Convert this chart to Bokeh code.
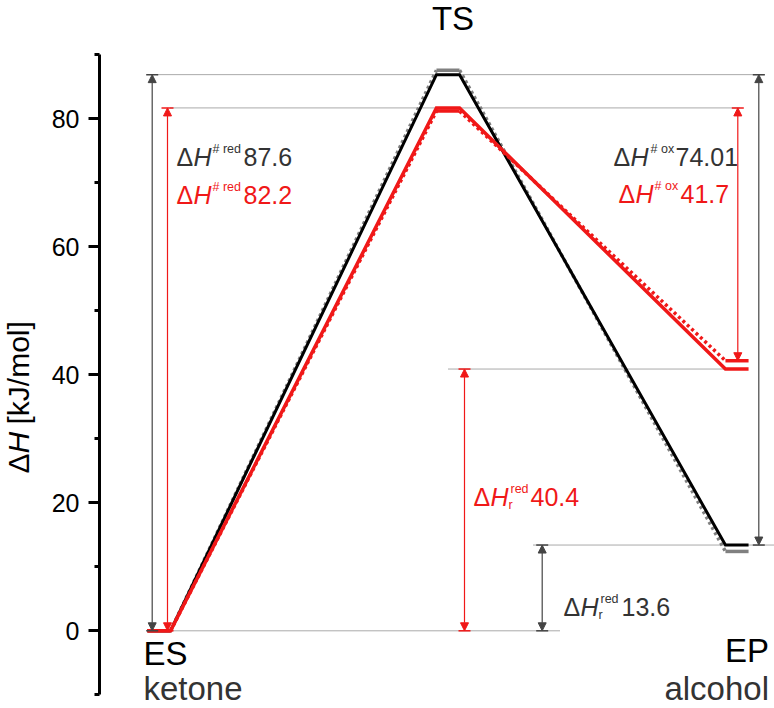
import numpy as np
from bokeh.plotting import figure
from bokeh.layouts import row
from bokeh.models import Range1d, FixedTicker, Arrow, NormalHead, TeeHead
from bokeh.core.properties import value
from bokeh.embed import file_html
from bokeh.resources import INLINE

FONT = "Liberation Sans"
RED = "#f01818"
DARK = "#333333"
GRAY = "#808080"

# ---------------- data ----------------
states = ["ES", "TS", "EP"]
state_x = [0, 1, 2]
state_names = ["ketone", "", "alcohol"]
black_solid = [0.0, 86.9, 13.4]
gray_dotted = [0.0, 87.6, 12.4]
red_solid = [0.0, 81.7, 40.9]
red_dotted = [0.0, 81.2, 42.2]
y_ticks = [0, 20, 40, 60, 80]
y_minor = [-10, 10, 30, 50, 70, 90]

ann_values = ["87.6", "82.2", "74.01", "41.7", "40.4", "13.6"]
ann_sup = ["# red", "# red", "# ox", "# ox", "red", "red"]
ann_sub = ["", "", "", "", "r", "r"]
ann_color = [DARK, RED, DARK, RED, RED, DARK]

y_label_parts = ["Δ", "H", "[kJ/mol]"]
y_label_styles = ["normal", "italic", "normal"]

# ---------------- layout constants ----------------
HW = 0.04   # half width of an energy plateau (x units)
PX = 289.0  # pixels per x unit
X0 = 158.5  # page px of state 0
LEFT_W = 40  # width of the strip holding the y-axis title


def xd(px):
    return (px - X0) / PX


def yd(py):
    return (630.3 - py) / 6.4


def yb(py_baseline, size):
    # text anchor (rendered centred) for a wanted baseline position
    return yd(py_baseline - 0.358 * size)


yr = Range1d(yd(708), yd(0))

p = figure(frame_width=774 - 99, frame_height=708,
           x_range=Range1d(xd(99), xd(774)), y_range=yr,
           output_backend="svg", toolbar_location=None, x_axis_location=None,
           min_border_left=99 - LEFT_W, min_border_right=0, min_border_top=0, min_border_bottom=0)
p.grid.visible = False
p.outline_line_color = None
p.background_fill_color = "white"
p.border_fill_color = "white"

ax = p.yaxis[0]
ax.ticker = FixedTicker(ticks=y_ticks, minor_ticks=y_minor)
ax.bounds = (-10, 90)
ax.axis_line_width = 3
ax.axis_line_color = "black"
ax.major_tick_line_width = 3
ax.minor_tick_line_width = 3
ax.major_tick_out = 11
ax.major_tick_in = 0
ax.minor_tick_out = 5
ax.minor_tick_in = 0
ax.major_label_text_font = FONT
ax.major_label_text_font_size = "25px"
ax.major_label_text_color = "black"
ax.major_label_standoff = 9
ax.axis_label = None

# ---------------- reference dotted lines ----------------
ref_levels = [black_solid[1], red_solid[1], red_solid[2], black_solid[2], 0.0]
ref_x0 = [xd(157), xd(170), xd(448), xd(533), xd(172)]
ref_x1 = [xd(764), xd(740), xd(727), xd(774), xd(560)]
p.segment(x0=ref_x0, x1=ref_x1, y0=ref_levels, y1=ref_levels,
          line_color="#555555", line_width=1, line_dash="1 1")


def plateaus(levels):
    return dict(x0=[x - HW for x in state_x], x1=[x + HW for x in state_x], y0=levels, y1=levels)


def ramps(levels):
    return dict(x0=[x + HW for x in state_x[:-1]], x1=[x - HW for x in state_x[1:]],
                y0=levels[:-1], y1=levels[1:])


def solid_path(levels):
    xs, ys = [], []
    for x, y in zip(state_x, levels):
        xs += [x - HW, x + HW]
        ys += [y, y]
    return xs, ys


# gray dotted
p.segment(**plateaus(gray_dotted), line_color=GRAY, line_width=3.5)
p.segment(**ramps(gray_dotted), line_color=GRAY, line_width=3.5, line_dash="3 3")
# black solid
xs, ys = solid_path(black_solid)
p.line(xs, ys, line_color="black", line_width=3, line_join="miter")
# red dotted
p.segment(**plateaus(red_dotted), line_color=RED, line_width=3.5)
p.segment(**ramps(red_dotted), line_color=RED, line_width=3.5, line_dash="3 3")
# red solid
xs, ys = solid_path(red_solid)
p.line(xs, ys, line_color=RED, line_width=3.5, line_join="miter")


# ---------------- double arrows ----------------
def darrow(x, y0, y1, color):
    p.add_layout(Arrow(x_start=x, y_start=y0, x_end=x, y_end=y1, line_color=color, line_width=1.2,
                       start=NormalHead(size=8, fill_color=color, line_color=color, line_width=1),
                       end=NormalHead(size=8, fill_color=color, line_color=color, line_width=1)))
    p.add_layout(Arrow(x_start=x, y_start=y0, x_end=x, y_end=y1, line_alpha=0,
                       start=TeeHead(size=12, line_color=color, line_width=1.5),
                       end=TeeHead(size=12, line_color=color, line_width=1.5)))


ARC = "#444444"
darrow(xd(151.7), 0.0, black_solid[1], ARC)
darrow(xd(167.0), 0.0, red_solid[1], RED)
darrow(xd(758.3), black_solid[2], black_solid[1], ARC)
darrow(xd(737.3), red_dotted[2], red_solid[1], RED)
darrow(xd(464.0), 0.0, red_solid[2], RED)
darrow(xd(541.7), 0.0, black_solid[2], ARC)

# ---------------- annotations ----------------
ann_x = [xd(176), xd(176), xd(613), xd(618), xd(473), xd(563)]
ann_base = [165, 203, 165, 202, 505, 615]   # baseline, page px
ann_supoff = [36, 36, 37, 36, 37, 37]
ann_numoff = [67, 67, 62, 62, 57, 58]
MAIN, SMALL = 25, 12.5

for i in range(len(ann_values)):
    c = ann_color[i]
    common = dict(text_font=value(FONT), text_color=c, text_baseline="alphabetic", text_align="left")
    ym = yb(ann_base[i], MAIN)
    p.text(x=[ann_x[i]], y=[ym], text=["Δ"], text_font_size=f"{MAIN}px", **common)
    p.text(x=[ann_x[i]], y=[ym], text=["H"], x_offset=17, text_font_size=f"{MAIN}px",
           text_font_style="italic", **common)
    p.text(x=[ann_x[i]], y=[yb(ann_base[i] - 12, SMALL)], text=[ann_sup[i]], x_offset=ann_supoff[i],
           text_font_size=f"{SMALL}px", **common)
    if ann_sub[i]:
        p.text(x=[ann_x[i]], y=[yb(ann_base[i] + 4, SMALL)], text=[ann_sub[i]],
               x_offset=ann_supoff[i] - 2, text_font_size=f"{SMALL}px", **common)
    p.text(x=[ann_x[i]], y=[ym], text=[ann_values[i]], x_offset=ann_numoff[i],
           text_font_size=f"{MAIN}px", **common)

# ---------------- state labels ----------------
BIG = 33
lab = dict(text_baseline="alphabetic", text_font=value(FONT), text_font_size=f"{BIG}px")
p.text(x=[state_x[0]], y=[yb(665, BIG)], text=[states[0]], x_offset=-15.5, text_align="left",
       text_color="black", **lab)
p.text(x=[state_x[0]], y=[yb(700, BIG)], text=[state_names[0]], x_offset=-15.5, text_align="left",
       text_color=DARK, **lab)
p.text(x=[state_x[1]], y=[yb(30, BIG)], text=[states[1]], x_offset=5, text_align="center",
       text_color="black", **lab)
p.text(x=[state_x[2]], y=[yb(662, BIG)], text=[states[2]], x_offset=32, text_align="right",
       text_color="black", **lab)
p.text(x=[state_x[2]], y=[yb(700, BIG)], text=[state_names[2]], x_offset=32, text_align="right",
       text_color=DARK, **lab)

# ---------------- y axis title strip (rotated, with italic H) ----------------
t = figure(width=LEFT_W, height=708, x_range=Range1d(0, LEFT_W), y_range=yr,
           output_backend="svg", toolbar_location=None, x_axis_location=None, y_axis_location=None,
           min_border_left=0, min_border_right=0, min_border_top=0, min_border_bottom=0)
t.grid.visible = False
t.outline_line_color = None
t.border_fill_color = "white"
label_starts = [473, 453, 424]  # page px where each part begins (reading upward)
for txt, py, style in zip(y_label_parts, label_starts, y_label_styles):
    t.text(x=[17.5], y=[yd(py)], text=[txt], angle=np.pi / 2, text_font=value(FONT),
           text_font_size="30px", text_font_style=style, text_color="black",
           text_baseline="alphabetic", text_align="left")

layout = row(t, p, spacing=0)
open("out.html", "w").write(file_html(layout, INLINE))
